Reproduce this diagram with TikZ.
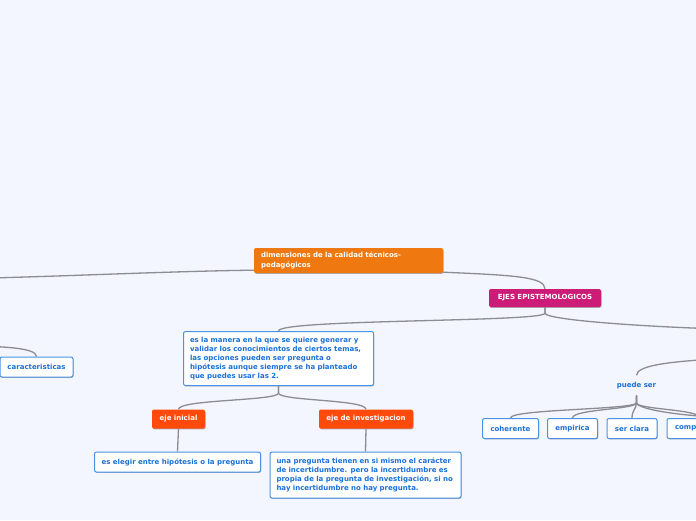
\documentclass[tikz,border=0pt]{standalone}
\usepackage{fontspec}
\newfontfamily\vf{DejaVu Sans}
\usetikzlibrary{calc,shadows}
\definecolor{bg}{HTML}{F3F6FE}
\definecolor{lineg}{HTML}{8C8C96}
\definecolor{mainor}{HTML}{EF7810}
\definecolor{ejemag}{HTML}{CC1C78}
\definecolor{ejeor}{HTML}{FF4A0B}
\definecolor{txtblue}{HTML}{1A70D8}
\definecolor{brdblue}{HTML}{4A92E2}
\begin{document}
\begin{tikzpicture}[x=1pt,y=-1pt,
  conn/.style={draw=lineg, line width=1.3pt},
  base/.style={font=\vf\bfseries\fontsize{7}{8.8}\selectfont, rounded corners=2pt,
    inner xsep=0pt, inner ysep=0pt,
    drop shadow={shadow xshift=0.6pt, shadow yshift=-0.9pt, opacity=0.3, fill=black}},
  filled/.style={base, text=white},
  wbox/.style={base, fill=white, draw=brdblue, line width=1pt, text=txtblue},
  plain/.style={font=\vf\bfseries\fontsize{7}{8.8}\selectfont, text=txtblue, inner sep=0pt}
]
\useasboundingbox (0,0) rectangle (696,520);
\clip (0,0) rectangle (696,520);
\fill[bg] (0,0) rectangle (696,520);

% off-canvas anchor points
\coordinate (offL) at (-60,279);
\coordinate (offL2) at (-40,346);
\coordinate (offR1) at (780,330);
\coordinate (offR2) at (780,357);
\coordinate (offR3) at (780,419);

% nodes
\node[filled, fill=mainor, minimum width=189pt, minimum height=25pt,
      text width=175pt, align=left, font=\vf\bfseries\fontsize{7}{9.5}\selectfont] (main) at (348.5,260.5)
  {dimensiones de la calidad técnicos-\\pedagógicos};
\node[filled, fill=ejemag, minimum width=112pt, minimum height=18pt] (ejes) at (545,298)
  {EJES EPISTEMOLOGICOS};
\node[wbox, minimum width=190pt, minimum height=54pt, text width=177pt, align=left] (blue) at (278.5,358.5)
  {es la manera en la que se quiere generar y\\validar los conocimientos de ciertos temas,\\las opciones pueden ser pregunta o\\hipótesis aunque siempre se ha planteado\\que puedes usar las 2.};
\node[filled, fill=ejeor, minimum width=53pt, minimum height=19pt] (einicial) at (178.5,419) {eje inicial};
\node[filled, fill=ejeor, minimum width=94pt, minimum height=19pt] (einv) at (366,419) {eje de investigacion};
\node[wbox, minimum width=166pt, minimum height=20pt] (elegir) at (177.5,462)
  {es elegir entre hipótesis o la pregunta};
\node[wbox, minimum width=191pt, minimum height=46pt, text width=178pt, align=left] (incert) at (365.5,475)
  {una pregunta tienen en si mismo el carácter\\de incertidumbre. pero la incertidumbre es\\propia de la pregunta de investigación, si no\\hay incertidumbre no hay pregunta.};
\node[wbox, minimum width=73pt, minimum height=20pt] (car) at (36.5,367) {caracteristicas};
\node[plain, minimum height=20pt] (puede) at (636.5,385.5) {puede ser};
\node[wbox, minimum width=56pt, minimum height=20pt] (coh) at (510.5,428.5) {coherente};
\node[wbox, minimum width=50pt, minimum height=20pt] (emp) at (572.5,428.5) {empirica};
\node[wbox, minimum width=50pt, minimum height=20pt] (clara) at (632,428.5) {ser clara};
\node[wbox, minimum width=66pt, minimum height=20pt, text width=50pt, align=left] (comp) at (700,428.5) {comp};

% connectors
\draw[conn] ($(main.south west)+(0,-3)$) .. controls +(-90,1) and +(90,-1) .. (offL);
\draw[conn] ($(main.south east)+(0,-1)$) .. controls +(70,3) and +(0,-12) .. (ejes.north);
\draw[conn] (ejes.south) -- ++(0,6) .. controls +(0,9) and +(0,-12) .. (blue.north);
\draw[conn] (ejes.south) -- ++(0,6) .. controls +(0,8) and +(-90,0) .. (offR1);
\draw[conn] (offL2) .. controls +(40,0) and +(0,-9) .. (car.north);
\draw[conn] (offR2) .. controls +(-110,2) and +(0,-10) .. (puede.north);
\draw[conn] (blue.south) -- ++(0,7) .. controls +(0,8) and +(0,-10) .. (einicial.north);
\draw[conn] (blue.south) -- ++(0,7) .. controls +(0,8) and +(0,-10) .. (einv.north);
\draw[conn] (einicial.south) -- (elegir.north);
\draw[conn] (einv.south) -- (incert.north);
\draw[conn] (puede.south) -- ++(0,7) .. controls +(0,7) and +(0,-9) .. (coh.north);
\draw[conn] (puede.south) -- ++(0,7) .. controls +(0,7) and +(0,-9) .. (emp.north);
\draw[conn] (puede.south) -- ++(0,7) .. controls +(0,6) and +(0,-8) .. (clara.north);
\draw[conn] (puede.south) -- ++(0,7) .. controls +(0,7) and +(0,-9) .. (comp.north);
\draw[conn] (puede.south) -- ++(0,7) .. controls +(0,7) and +(-90,0) .. (offR3);
\end{tikzpicture}
\end{document}
